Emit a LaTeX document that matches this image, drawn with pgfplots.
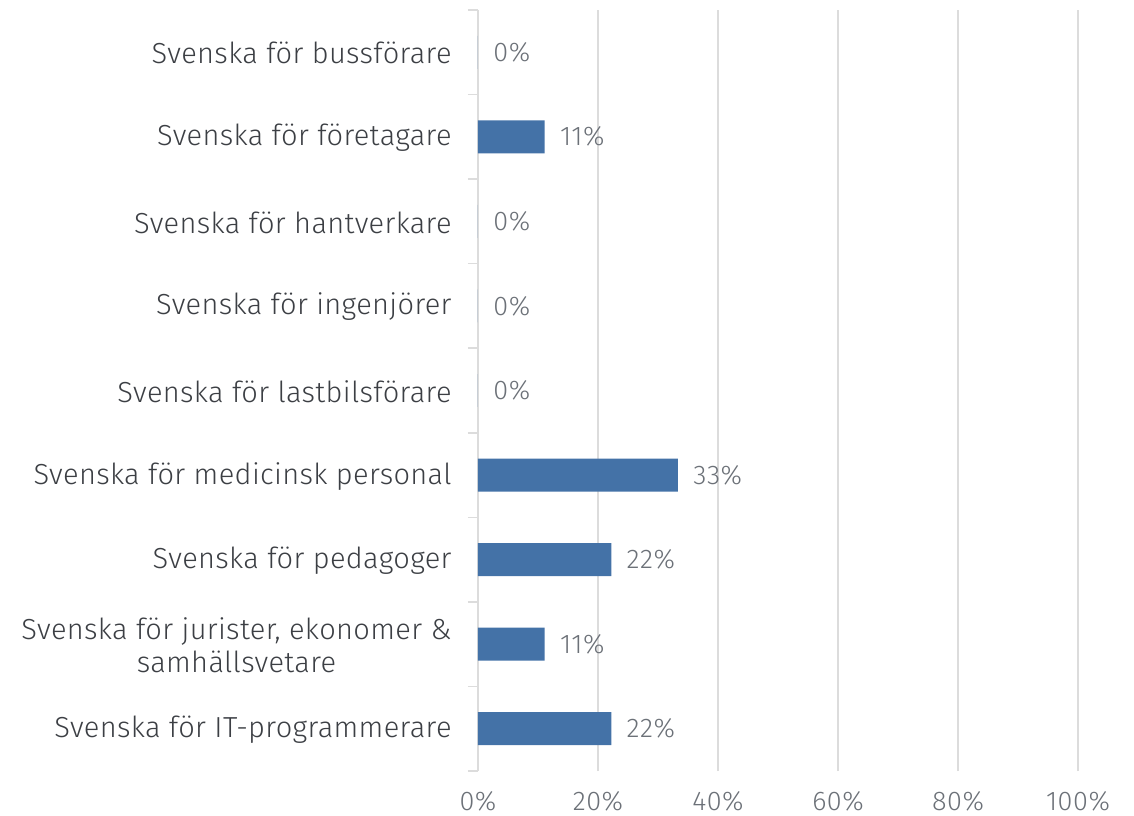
\documentclass[border=0pt]{standalone}
\usepackage{fontspec}
\setmainfont{Fira Sans}[UprightFont={* Light}]
\newfontfamily\labfont{Fira Sans}[UprightFont={* Light}, LetterSpace=1.2]
\newfontfamily\numfont{Fira Sans}[UprightFont={* Light}, LetterSpace=2]
\usepackage{pgfplots}
\pgfplotsset{compat=1.18}
\definecolor{barblue}{RGB}{68,114,167}
\definecolor{labtext}{RGB}{60,63,68}
\definecolor{numtext}{RGB}{108,113,120}
\definecolor{gridc}{RGB}{220,220,220}
\begin{document}
\begin{tikzpicture}
\useasboundingbox (-239pt,-22pt) rectangle (328pt,385.5pt);
\begin{axis}[
  scale only axis,
  width=300pt, height=380.5pt,
  xbar, bar width=0.39,
  xmin=0, xmax=100,
  ymin=-0.5, ymax=8.5,
  xtick={0,20,40,60,80,100},
  xticklabels={0\%,20\%,40\%,60\%,80\%,100\%},
  ytick={0,...,8},
  yticklabels={
    Svenska för IT-programmerare,
    {Svenska för jurister, ekonomer \&\\samhällsvetare},
    Svenska för pedagoger,
    Svenska för medicinsk personal,
    Svenska för lastbilsförare,
    Svenska för ingenjörer,
    Svenska för hantverkare,
    Svenska för företagare,
    Svenska för bussförare},
  minor ytick={-0.5,0.5,...,8.5},
  ytick pos=left,
  xtick pos=bottom,
  tick align=outside,
  major tick length=0pt,
  minor tick length=5pt,
  minor tick style={draw=gridc, line width=0.8pt},
  major tick style={draw=none},
  xmajorgrids,
  major grid style={draw=gridc, line width=0.8pt},
  axis line style={draw=none},
  yticklabel style={font=\labfont\fontsize{14.5}{16.5}\selectfont, text=labtext, align=center, anchor=east, inner sep=0pt, xshift=-13pt, yshift=-0.5pt},
  xticklabel style={font=\numfont\fontsize{13.5}{15}\selectfont, text=numtext, anchor=base, inner sep=0pt, yshift=-19.5pt},
  point meta=explicit symbolic,
  nodes near coords,
  nodes near coords style={font=\numfont\fontsize{13.5}{15}\selectfont, text=numtext, anchor=west, inner sep=0pt, xshift=7.5pt},
  clip=false,
]
\addplot[fill=barblue, draw=none] coordinates {
  (22.22,0) [22\%]
  (11.11,1) [11\%]
  (22.22,2) [22\%]
  (33.33,3) [33\%]
  (0,4) [0\%]
  (0,5) [0\%]
  (0,6) [0\%]
  (11.11,7) [11\%]
  (0,8) [0\%]
};
\end{axis}
\end{tikzpicture}
\end{document}
